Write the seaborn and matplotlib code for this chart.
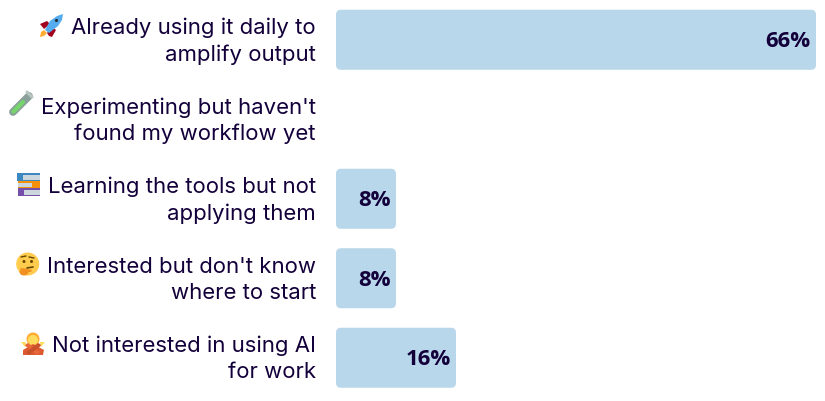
import matplotlib
matplotlib.use("Agg")
import matplotlib.pyplot as plt
import seaborn as sns
import pandas as pd
from matplotlib.transforms import ScaledTranslation
from matplotlib.patches import FancyBboxPatch, Circle, Polygon, Rectangle, Ellipse

categories = [
    "Already using it daily to\namplify output",
    "Experimenting but haven't\nfound my workflow yet",
    "Learning the tools but not\napplying them",
    "Interested but don't know\nwhere to start",
    "Not interested in using AI\nfor work",
]
shares = [66.67, 0, 8.33, 8.33, 16.67]
value_labels = ["66%", "", "8%", "8%", "16%"]

INK = "#13003a"
BAR = "#b8d7ea"
W, H = 825, 401

sns.set_theme(style="white")
plt.rcParams["font.family"] = ["Inter", "DejaVu Sans"]

fig = plt.figure(figsize=(W / 100, H / 100), dpi=100, facecolor="white")
ax = fig.add_axes([336 / W, 1 - 397.5 / H, 480 / W, 397.5 / H])

df = pd.DataFrame({"category": categories, "share": shares})
sns.barplot(data=df, x="share", y="category", color=BAR, saturation=1,
            width=0.755, ax=ax, orient="h")
ax.set_xlim(0, 66.67)
ax.set_ylim(4.5, -0.5)
ax.set_xlabel("")
ax.set_ylabel("")
ax.set_xticks([])
sns.despine(ax=ax, left=True, bottom=True)
ax.tick_params(axis="y", length=0, pad=14.4)
lift = ScaledTranslation(0, 3.5 / 100, fig.dpi_scale_trans)
for t in ax.get_yticklabels():
    t.set_fontsize(15.95)
    t.set_color(INK)
    t.set_ha("right")
    t.set_linespacing(1.37)
    t.set_multialignment("right")
    t.set_transform(t.get_transform() + lift)

# round the corners of the bars, keeping the geometry the library computed
ux = 66.67 / 480
uy = 5 / 397.5
for bar in list(ax.patches):
    x, y, w, h = bar.get_x(), bar.get_y(), bar.get_width(), bar.get_height()
    bar.set_visible(False)
    if w <= 0:
        continue
    r = 5
    ax.add_patch(FancyBboxPatch(
        (x + r * ux, y + r * uy), w - 2 * r * ux, h - 2 * r * uy,
        boxstyle=f"round,pad={r * ux},rounding_size={r * ux}",
        mutation_aspect=uy / ux, fc=BAR, ec="none", zorder=2))

for i, (v, lab) in enumerate(zip(shares, value_labels)):
    if lab:
        ax.annotate(lab, (v, i), xytext=(-4, -1.5), textcoords="offset points",
                    ha="right", va="center", fontsize=15.9, fontweight="bold",
                    family="Open Sans", color=INK, zorder=3)

# emoji are drawn as small vector icons: no colour-emoji font is installed
ic = fig.add_axes([0, 0, 1, 1], facecolor="none")
ic.set_xlim(0, W)
ic.set_ylim(H, 0)
ic.axis("off")

def poly(pts, c):
    ic.add_patch(Polygon(pts, closed=True, fc=c, ec="none"))

# rocket
poly([(40, 37), (41, 32), (44, 30), (47, 33), (44, 36)], "#ffac33")
poly([(40, 24), (47, 21), (50, 24), (44, 29)], "#a0041e")
poly([(52, 37), (56, 30), (52, 27), (47, 33), (49, 36)], "#a0041e")
poly([(45, 30), (50, 21), (57, 16), (63, 14), (62, 20), (58, 26), (49, 33)], "#55acee")
ic.add_patch(Circle((56.5, 20.5), 1.6, fc="#292f33", ec="none"))

# test tube
ic.plot([13, 29], [112, 96], color="#8aa09a", lw=5.6, solid_capstyle="round")
ic.plot([13.5, 23], [111.5, 102], color="#77d66b", lw=3, solid_capstyle="round")
ic.plot([27, 32], [92, 97], color="#b8c6c0", lw=2.2, solid_capstyle="round")

# books
ic.add_patch(Rectangle((17, 173), 23, 8, fc="#3b88c3", ec="none"))
ic.add_patch(Rectangle((23, 174.5), 17, 5, fc="#ccd6dd", ec="none"))
ic.add_patch(Rectangle((18, 181), 22, 7, fc="#f4900c", ec="none"))
ic.add_patch(Rectangle((18, 183), 14, 4, fc="#ccd6dd", ec="none"))
ic.add_patch(Rectangle((18, 188), 22, 8, fc="#744eaa", ec="none"))
ic.add_patch(Rectangle((24, 189.5), 16, 5, fc="#ccd6dd", ec="none"))

# thinking face
ic.add_patch(Circle((27.7, 264), 11.5, fc="#ffcc4d", ec="none"))
ic.add_patch(Circle((24, 261.5), 1.5, fc="#664500", ec="none"))
ic.add_patch(Circle((31.5, 261.5), 1.5, fc="#664500", ec="none"))
ic.plot([21, 26], [257, 256], color="#664500", lw=1)
ic.plot([29, 34], [257, 258], color="#664500", lw=1)
ic.plot([27, 33], [268, 267], color="#664500", lw=1.2)
ic.add_patch(Ellipse((24, 272), 9, 7, fc="#f19020", ec="none"))
poly([(20, 268), (32, 270), (31, 272), (22, 272)], "#f19020")

# person with crossed arms
ic.add_patch(Circle((33, 339), 6.5, fc="#ffac33", ec="none"))
ic.add_patch(Circle((33, 340), 5, fc="#ffdc5d", ec="none"))
poly([(23, 355), (43, 355), (44, 350), (33, 344), (23, 350)], "#dd5a30")
poly([(24, 345), (28, 343), (40, 352), (37, 355)], "#e8683a")
poly([(42, 345), (38, 343), (26, 352), (29, 355)], "#c9502a")
poly([(21, 342), (26, 342), (25, 347)], "#ffdc5d")
poly([(45, 342), (40, 342), (41, 347)], "#ffdc5d")

fig.savefig("out.png", dpi=100, facecolor="white")
